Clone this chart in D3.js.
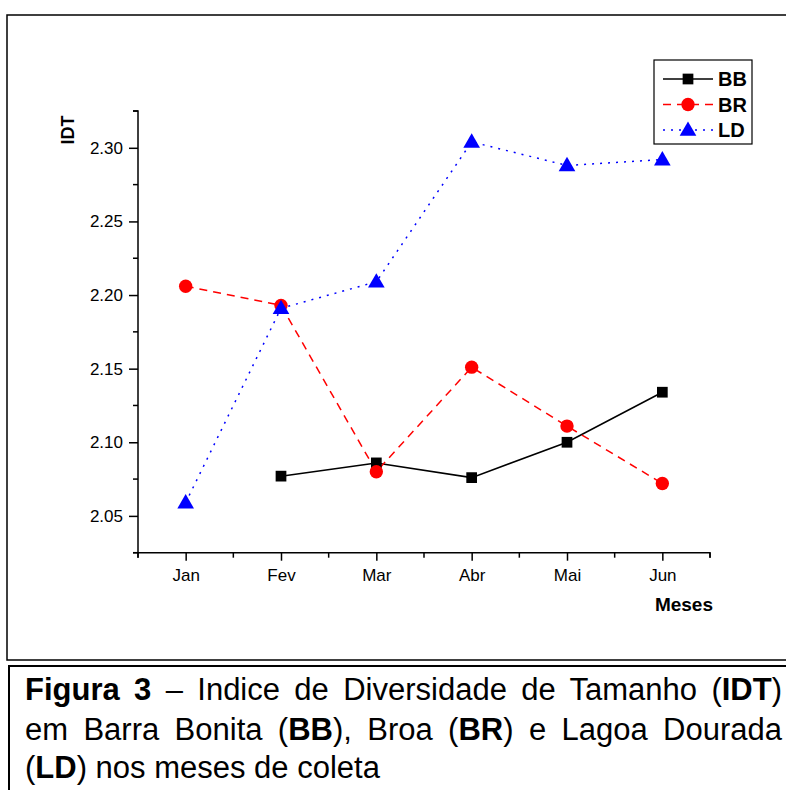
<!DOCTYPE html>
<html><head><meta charset="utf-8">
<script src="https://cdn.jsdelivr.net/npm/d3@7/dist/d3.min.js"></script>
<style>body{margin:0;background:#fff}svg{display:block}</style>
</head><body>
<svg id="c" width="786" height="790"></svg>
<script>
const months = ["Jan","Fev","Mar","Abr","Mai","Jun"];
const BB = [null, 2.077, 2.086, 2.076, 2.100, 2.134];
const BR = [2.206, 2.193, 2.080, 2.151, 2.111, 2.072];
const LD = [2.059, 2.191, 2.209, 2.304, 2.288, 2.292];
const yTicks = [2.05, 2.10, 2.15, 2.20, 2.25, 2.30];
const seriesNames = ["BB","BR","LD"];

const svg = d3.select("#c");
const F = "Arial, 'Liberation Sans', sans-serif";

// frames
svg.append("rect").attr("x",7).attr("y",15).attr("width",800).attr("height",645)
  .attr("fill","none").attr("stroke","#000").attr("stroke-width",1.5);
svg.append("rect").attr("x",9).attr("y",666).attr("width",800).attr("height",140)
  .attr("fill","none").attr("stroke","#000").attr("stroke-width",2);

const x = d3.scaleLinear().domain([0,6]).range([138,710]);
const y = d3.scaleLinear().domain([2.025,2.325]).range([552.7,111]);
const xp = i => x(i+0.5);

// axes
const g = svg.append("g");
const yAxis = d3.axisLeft(y).tickValues(yTicks).tickFormat(d3.format(".2f")).tickSize(9).tickPadding(6);
const ya = g.append("g").attr("transform","translate(138,0)").call(yAxis);
const minorY = d3.range(0,13).map(i=>2.025+i*0.025).filter(v=>!yTicks.some(t=>Math.abs(t-v)<1e-6));
ya.selectAll(".mn").data(minorY).enter().append("line").attr("class","mn")
  .attr("x1",0).attr("x2",-5).attr("y1",d=>y(d)).attr("y2",d=>y(d)).attr("stroke","#000").attr("stroke-width",1.5);
const xAxis = d3.axisBottom(x).tickValues(months.map((m,i)=>i+0.5)).tickFormat((d,i)=>months[i]).tickSize(8).tickPadding(8);
const xa = g.append("g").attr("transform","translate(0,552.7)").call(xAxis);
xa.selectAll(".mn").data(d3.range(0,7)).enter().append("line").attr("class","mn")
  .attr("x1",d=>x(d)).attr("x2",d=>x(d)).attr("y1",0).attr("y2",5).attr("stroke","#000").attr("stroke-width",1.5);
[ya,xa].forEach(a=>{
  a.select(".domain").attr("stroke","#000").attr("stroke-width",1.5);
  a.selectAll(".tick line").attr("stroke","#000").attr("stroke-width",1.5);
  a.selectAll("text").attr("font-family",F).attr("font-size",17).attr("fill","#000");
});
ya.select(".domain").attr("d","M-5,111H0V552.7H-5");
xa.select(".domain").attr("d","M138,5V0H710V5");

svg.append("text").attr("transform","translate(74,130) rotate(-90)").attr("text-anchor","middle")
  .attr("font-family",F).attr("font-weight","bold").attr("font-size",18).text("IDT");
svg.append("text").attr("x",713).attr("y",611).attr("text-anchor","end")
  .attr("font-family",F).attr("font-weight","bold").attr("font-size",19).text("Meses");

const styles = {
  BB:{color:"#000", dash:null, data:BB, marker:"square"},
  BR:{color:"#ff0000", dash:"8,6", data:BR, marker:"circle"},
  LD:{color:"#0000ff", dash:"2,6", data:LD, marker:"triangle"}
};
const symType = {square:d3.symbolSquare, circle:d3.symbolCircle, triangle:d3.symbolTriangle};
const symSize = {square:115, circle:140, triangle:120};

const line = d3.line().defined(d=>d.v!=null).x(d=>xp(d.i)).y(d=>y(d.v));
seriesNames.forEach(n=>{
  const s = styles[n];
  const pts = s.data.map((v,i)=>({v,i}));
  svg.append("path").datum(pts).attr("d",line).attr("fill","none").attr("stroke",s.color)
    .attr("stroke-width",1.5).attr("stroke-dasharray",s.dash);
});
seriesNames.forEach(n=>{
  const s = styles[n];
  const pts = s.data.map((v,i)=>({v,i})).filter(d=>d.v!=null);
  svg.selectAll(null).data(pts).enter().append("path")
    .attr("d",d3.symbol(symType[s.marker],symSize[s.marker]))
    .attr("transform",d=>`translate(${xp(d.i)},${y(d.v)+(s.marker==="triangle"?1:0)})`)
    .attr("fill",s.color);
});

// legend
const lg = svg.append("g");
lg.append("rect").attr("x",654).attr("y",60).attr("width",98).attr("height",84)
  .attr("fill","#fff").attr("stroke","#000").attr("stroke-width",1.2);
seriesNames.forEach((n,k)=>{
  const s = styles[n], yy = 79 + k*25.5;
  lg.append("line").attr("x1",663).attr("x2",713).attr("y1",yy).attr("y2",yy)
    .attr("stroke",s.color).attr("stroke-width",1.5).attr("stroke-dasharray",s.dash);
  lg.append("path").attr("d",d3.symbol(symType[s.marker],symSize[s.marker]))
    .attr("transform",`translate(688,${yy+(s.marker==="triangle"?1:0)})`).attr("fill",s.color);
  lg.append("text").attr("x",718).attr("y",yy+7).attr("font-family",F).attr("font-weight","bold")
    .attr("font-size",20).text(n);
});

// caption
const capLines = [
  [["Figura 3",true],[" – Indice de Diversidade de Tamanho (",false],["IDT",true],[")",false]],
  [["em Barra Bonita (",false],["BB",true],["), Broa (",false],["BR",true],[") e Lagoa Dourada",false]],
  [["(",false],["LD",true],[") nos meses de coleta",false]]
];
const baselines = [700, 740, 778];
capLines.forEach((parts,li)=>{
  const t = svg.append("text").attr("x",25).attr("y",baselines[li]).attr("font-family",F)
    .attr("font-size",31).attr("fill","#000");
  parts.forEach(p=>t.append("tspan").attr("font-weight",p[1]?"bold":"normal").text(p[0]));
  if (li<2) {
    const w = t.node().getComputedTextLength();
    const spaces = parts.map(p=>p[0]).join("").split(" ").length-1;
    const extra = Math.max(0,(782-25-w)/spaces);
    t.attr("word-spacing", extra);
  }
});
</script>
</body></html>
